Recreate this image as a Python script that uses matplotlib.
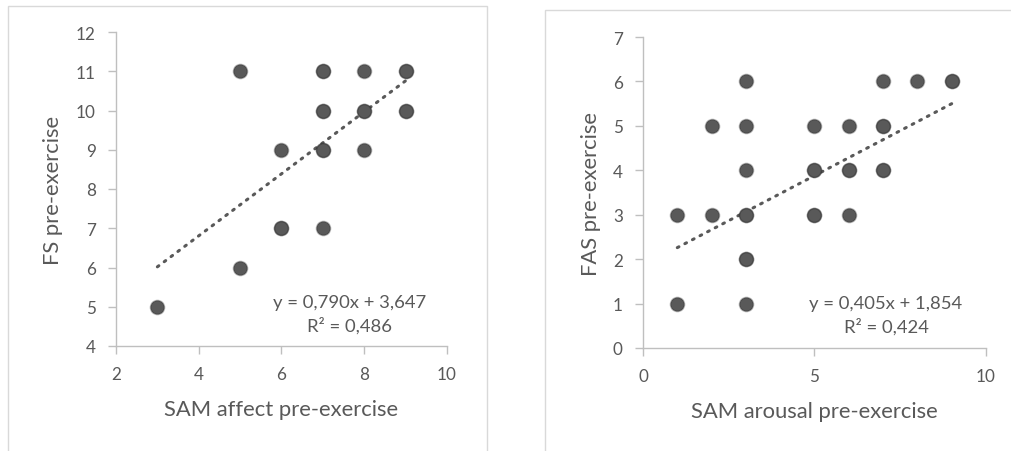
import numpy as np
import matplotlib
matplotlib.use("Agg")
import matplotlib.pyplot as plt
from matplotlib.patches import Rectangle

plt.rcParams['font.family'] = ['Lato', 'DejaVu Sans']

# left chart: SAM affect vs FS (repeated pairs overlap in the original)
affect_x = [3, 5, 5, 6, 6, 6, 7, 7, 7, 7, 7, 7, 7, 8, 8, 8, 8, 9, 9, 9, 9]
fs_y = [5, 11, 6, 9, 7, 7, 11, 11, 10, 10, 9, 9, 7, 11, 10, 10, 9, 11, 11, 10, 10]
fit_left = (0.790, 3.647)
eq_left = ["y = 0,790x + 3,647", "R² = 0,486"]

# right chart: SAM arousal vs FAS
arousal_x = [1, 1, 2, 2, 3, 3, 3, 3, 3, 3, 3, 3, 5, 5, 5, 5, 5, 6, 6, 6, 6, 7, 7, 7, 7, 7, 8, 9, 9]
fas_y = [3, 1, 5, 3, 6, 5, 4, 3, 3, 2, 2, 1, 5, 4, 4, 3, 3, 5, 4, 4, 3, 6, 5, 5, 4, 4, 6, 6, 6]
fit_right = (0.405, 1.854)
eq_right = ["y = 0,405x + 1,854", "R² = 0,424"]

TXT = '#595959'
AX = '#bfbfbf'
MK = '#595959'

fig = plt.figure(figsize=(10.12, 4.52), dpi=100)

# panel frames
fig.patches.append(Rectangle((8/1012, -0.1), 479/1012, 1.1 - 7/452, transform=fig.transFigure,
                             fill=False, edgecolor='#d9d9d9', lw=1))
fig.patches.append(Rectangle((545/1012, -0.1), 0.6, 1.1 - 11/452, transform=fig.transFigure,
                             fill=False, edgecolor='#d9d9d9', lw=1))

ax1 = fig.add_axes([116/1012, (452-347)/452, 331/1012, 314/452])
ax2 = fig.add_axes([643/1012, (452-349)/452, 343/1012, 311/452])


def style(ax):
    for s in ['top', 'right']:
        ax.spines[s].set_visible(False)
    for s in ['left', 'bottom']:
        ax.spines[s].set_color(AX)
        ax.spines[s].set_linewidth(1)
    ax.tick_params(direction='out', length=5.5, width=1, color=AX, labelcolor=TXT, labelsize=12.3)
    ax.tick_params(axis='y', pad=9)
    ax.tick_params(axis='x', pad=9)


def panel(ax, xs, ys, fit, eq, xlim, ylim, xticks, xlabel, ylabel, eqpos):
    ax.scatter(xs, ys, s=100, color=MK, edgecolors=(0.15, 0.15, 0.15, 0.35), linewidths=1.2,
               zorder=3, clip_on=False)
    xf = np.array([min(xs), max(xs)])
    ax.plot(xf, fit[0] * xf + fit[1], color=MK, lw=2.2, linestyle=(0, (0.6, 2.2)),
            dash_capstyle='round', zorder=2)
    ax.set_xlim(*xlim)
    ax.set_ylim(*ylim)
    ax.set_xticks(xticks)
    ax.set_yticks(range(ylim[0], ylim[1] + 1))
    ax.set_xlabel(xlabel, fontsize=15.8, color=TXT)
    ax.set_ylabel(ylabel, fontsize=15.8, color=TXT)
    ax.text(eqpos[0], eqpos[1], eq[0] + "\n" + eq[1], transform=ax.transAxes, ha='center',
            va='center', fontsize=13.3, color=TXT, linespacing=1.45)
    style(ax)


panel(ax1, affect_x, fs_y, fit_left, eq_left, (2, 10), (4, 12), [2, 4, 6, 8, 10],
      "SAM affect pre-exercise", "FS pre-exercise", ((350-116)/331, (347-315)/314))
panel(ax2, arousal_x, fas_y, fit_right, eq_right, (0, 10), (0, 7), [0, 5, 10],
      "SAM arousal pre-exercise", "FAS pre-exercise", ((886-643)/343, (349-316)/311))

ax1.xaxis.set_label_coords(0.5, (347-410)/314)
ax1.xaxis.label.set_verticalalignment('center')
ax1.yaxis.set_label_coords((53-116)/331, 0.5)
ax1.yaxis.label.set_verticalalignment('center')
ax2.xaxis.set_label_coords((814-643)/343, (349-412)/311)
ax2.xaxis.label.set_verticalalignment('center')
ax2.yaxis.set_label_coords((591-643)/343, 0.5)
ax2.yaxis.label.set_verticalalignment('center')

fig.savefig("out.png", dpi=100)
